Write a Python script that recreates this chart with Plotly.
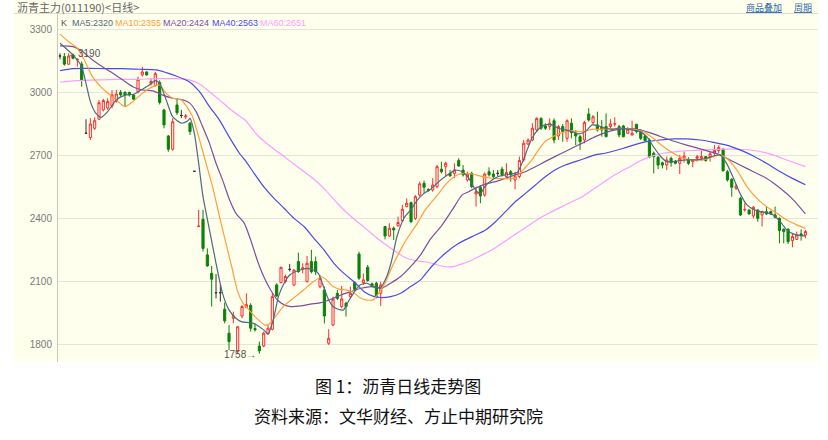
import plotly.graph_objects as go

# ---------------- data ----------------
opens = [3176,3173,3137,3181,3157,3138,2808,2788,2832,2875,2919,2928,2938,2959,3003,3003,3003,2990,3006,3086,
         3100,3045,3035,3050,2919,2795,2732,2943,2893,2886,2856,2627,2364,2398,2229,2141,2049,2049,1970,1856,
         1927,1768,1938,1979,1989,1878,1795,1795,1853,1875,2086,2097,2102,2160,2086,2197,2162,2102,2197,2197,
         2078,2062,1808,1895,2046,1983,1999,2030,2098,2233,2097,2170,2091,2094,2046,2364,2319,2356,2367,2392,
         2459,2478,2403,2514,2570,2541,2538,2554,2637,2649,2617,2617,2678,2633,2586,2617,2519,2551,2514,2625,
         2614,2617,2637,2602,2625,2586,2602,2681,2757,2776,2824,2879,2843,2840,2868,2795,2840,2784,2856,2808,
         2792,2776,2900,2859,2848,2837,2840,2840,2852,2840,2843,2808,2800,2851,2816,2795,2776,2713,2694,2668,
         2657,2689,2676,2665,2689,2684,2673,2689,2689,2697,2697,2713,2726,2732,2625,2589,2546,2498,2443,2443,
         2414,2443,2419,2435,2435,2419,2403,2351,2351,2297,2303,2329,2324]
highs = [3189,3190,3189,3188,3165,3150,2875,2880,2884,2967,2972,2975,3014,3014,3014,3008,3006,2994,3078,3125,
         3103,3068,3100,3060,2925,2800,2880,2975,2919,2900,2862,2627,2443,2443,2260,2176,2138,2086,2002,1895,
         1959,1887,1990,2046,1999,1903,1816,1864,1895,2046,2094,2173,2135,2186,2160,2240,2189,2224,2253,2221,
         2133,2078,1875,2030,2062,2081,2006,2078,2101,2244,2141,2181,2097,2101,2101,2367,2380,2364,2411,2467,
         2498,2483,2514,2578,2583,2546,2594,2657,2673,2673,2633,2665,2689,2657,2625,2625,2554,2562,2621,2646,
         2633,2633,2649,2665,2633,2625,2697,2776,2784,2856,2884,2884,2856,2879,2879,2848,2852,2875,2879,2824,
         2800,2868,2927,2895,2911,2871,2903,2875,2884,2848,2848,2837,2868,2852,2827,2800,2784,2721,2700,2673,
         2697,2697,2681,2705,2721,2694,2681,2705,2726,2700,2721,2752,2752,2737,2633,2594,2567,2506,2475,2446,
         2462,2446,2440,2462,2440,2459,2408,2356,2356,2332,2340,2351,2348]
lows = [3160,3130,3133,3160,3125,3030,2805,2776,2824,2871,2912,2919,2927,2954,2983,2935,2983,2967,2998,3078,
        3082,3035,3030,2945,2832,2720,2725,2895,2880,2875,2800,2627,2362,2245,2173,1983,2022,2006,1903,1776,
        1903,1760,1927,1975,1864,1864,1758,1789,1850,1870,2030,2094,2094,2150,2080,2144,2141,2097,2141,2133,
        2070,1903,1800,1890,2014,1975,1935,2022,2062,2110,2086,2101,2075,2022,1986,2303,2316,2300,2364,2387,
        2456,2380,2395,2506,2522,2530,2530,2546,2617,2602,2602,2594,2649,2602,2578,2546,2459,2475,2506,2602,
        2594,2602,2602,2594,2578,2541,2594,2673,2752,2771,2816,2824,2824,2824,2760,2776,2768,2768,2784,2752,
        2729,2760,2864,2848,2816,2792,2789,2832,2840,2789,2789,2805,2798,2808,2776,2768,2689,2617,2637,2641,
        2633,2649,2660,2614,2668,2657,2646,2673,2678,2673,2673,2700,2713,2625,2578,2506,2538,2414,2435,2421,
        2403,2387,2364,2419,2419,2403,2284,2284,2281,2265,2300,2297,2308]
closes = [3176,3137,3176,3165,3160,3062,2808,2852,2868,2954,2964,2959,2991,2995,2991,2991,2991,2970,3065,3100,
          3086,3055,3092,2955,2848,2732,2863,2906,2893,2890,2816,2627,2366,2260,2176,2113,2049,2049,1915,1816,
          1938,1887,1983,1992,1880,1873,1772,1856,1880,2030,2033,2170,2126,2160,2157,2149,2167,2189,2149,2149,
          2118,1938,1832,2018,2022,2019,1983,2046,2065,2118,2110,2107,2080,2030,2086,2319,2356,2348,2383,2446,
          2475,2387,2506,2567,2551,2535,2562,2649,2625,2665,2605,2633,2652,2610,2613,2554,2530,2510,2614,2610,
          2602,2617,2610,2621,2610,2602,2678,2760,2776,2832,2879,2832,2832,2856,2776,2840,2816,2868,2811,2795,
          2768,2859,2871,2887,2824,2824,2792,2852,2853,2800,2792,2827,2808,2816,2784,2773,2694,2697,2657,2657,
          2681,2668,2665,2689,2700,2665,2678,2697,2697,2678,2710,2726,2741,2630,2586,2551,2557,2419,2445,2424,
          2456,2403,2435,2424,2424,2408,2345,2340,2292,2316,2324,2322,2340]
doji = [0, 6, 28, 31, 36, 37, 53, 101]

ma5_x = [0,3,5,6,7,8.3,9.5,11,13,15,17,18.7,20.6,22,23,24.5,26,28,29.5,30,31,32,33,34.5,36,37.5,39,40.6,41.8,44.6,
         47,48,49.2,50.4,51.5,53,55.4,57,58.5,59.6,60.8,62,63,64.2,65.4,66.5,67.7,69.2,70.8,72.3,74,75.4,76.5,77.8,
         79.4,80.9,82.5,84,85.5,87.4,89.7,91.2,92.8,94.3,95.8,97,98,99.7,101.2,102.8,104.3,105.5,106.6,107.8,108.9,
         110.4,111.9,113.5,115,116.6,118.2,119.7,121.2,122.8,124.3,125.8,127.4,129.2,131.5,133.8,135.4,136.9,138.5,
         140,141.5,143,144.6,146,147.7,149.2,150.8,152.3,153.8,155.4,156.9,158.5,160,161.5,163,164.6,166.2,167.7,
         169.2,170.8,172]
ma5_y = [3237,3181,3125,3046,2959,2903,2884,2911,2967,2990,2994,3014,3038,3059,3046,2967,2887,2856,2868,2879,2808,
         2665,2506,2348,2189,2046,1967,1927,1911,1903,1872,1853,1919,2030,2086,2133,2157,2165,2157,2141,2078,2014,
         1983,1970,1967,2006,2046,2086,2094,2078,2075,2126,2200,2320,2405,2443,2491,2522,2541,2578,2614,2633,2625,
         2594,2541,2519,2554,2586,2602,2610,2614,2621,2665,2729,2784,2827,2848,2848,2832,2824,2816,2805,2816,2848,
         2843,2832,2827,2832,2827,2816,2792,2745,2700,2673,2673,2678,2681,2681,2684,2689,2700,2705,2665,2594,2522,
         2467,2446,2435,2430,2419,2387,2348,2329,2321,2320]

ma10_x = [0,2,4,5.6,7.5,9.8,12,14,15,16.8,19,21.4,23,24.5,26,28,29.5,30.6,32,33.7,35.2,36.8,38.3,39.8,41,42.2,43,
          45.4,47.3,48.5,50,51.5,53.8,56.2,58.5,60.4,61.5,63,64.6,66,67.7,69.2,70.8,72.3,73.5,75,76.3,77.8,79.4,
          80.9,82.5,84,85.5,87.4,88.9,90.5,92,93.5,95,97.4,99.7,102,104.3,105.8,107.2,108.9,110.4,111.9,113.5,115,
          116.6,118.2,119.7,121.2,122.8,124.3,126.6,128.9,132.3,134.6,136.9,139.2,141.5,143.8,146,148.5,150.8,
          152.3,153.8,156.2,158.5,160.8,163,165.4,167.7,170,172]
ma10_y = [3280,3244,3213,3157,3078,3022,2983,2948,2935,2959,2998,3030,3038,2998,2975,2967,2927,2887,2792,2665,2554,
          2411,2284,2157,2054,1999,1980,1927,1895,1903,1943,1983,2022,2062,2102,2125,2110,2078,2065,2062,2050,2025,
          2014,2016,2046,2094,2157,2221,2284,2332,2380,2435,2475,2522,2562,2594,2613,2617,2614,2602,2594,2592,2592,
          2610,2641,2681,2729,2768,2789,2805,2816,2821,2816,2819,2827,2827,2830,2832,2827,2816,2784,2745,2713,2689,
          2681,2681,2697,2705,2689,2633,2554,2498,2459,2427,2395,2372,2355]

ma20_x = [0,3,5.2,7.5,9.8,12.2,14.5,16.8,19,21.4,23.7,26,28.3,29.8,31.4,32.9,34.5,36,37.5,39,40.6,42.5,44,45.5,47,
          48.6,50.2,51.7,53.2,55.5,57.8,60.2,62.5,64.8,67.1,69.5,71.8,74.2,76.3,78.6,80.9,83.2,85.5,88.2,90.5,92.8,
          94.3,95.8,98.2,100.5,102.8,105.1,107.4,109.7,111.9,114.2,116.6,118.9,121.2,123.5,125.8,128.2,131.5,133.8,
          136.9,140.8,144.6,148.5,150.8,152.3,154.6,156.9,160,163,166.2,169.2,172]
ma20_y = [3224,3221,3197,3157,3125,3094,3062,3030,3014,3010,2990,2975,2967,2954,2911,2840,2760,2665,2586,2498,2427,
          2380,2300,2205,2126,2062,2014,1991,1983,1986,1995,2002,2018,2038,2054,2070,2078,2070,2094,2126,2173,2229,
          2305,2372,2443,2515,2530,2546,2567,2578,2594,2610,2625,2649,2673,2697,2721,2745,2768,2792,2811,2824,2830,
          2824,2805,2776,2752,2729,2716,2705,2681,2657,2625,2594,2546,2491,2424]

ma40_x = [0,2.9,6.8,10.6,14.5,18.3,22.2,24.5,26.8,29.8,32.2,34.5,36.8,39,41.4,42.7,44.8,47,49.4,51.7,54,56.3,58.6,
          60.9,63.2,65.5,67.8,70.2,72.5,74,76.3,78.6,80.9,83.2,85.8,88.9,92,95.1,98.2,100.5,102.8,105.1,107.4,109.7,
          111.9,114.2,116.6,118.9,121.2,123.5,125.8,128.2,130,132.3,135.4,138.5,141.5,144.6,147.7,150.8,153.8,156.9,
          160,163,166.2,169.2,172]
ma40_y = [3106,3116,3117,3116,3116,3113,3110,3097,3081,3054,3006,2935,2871,2792,2713,2680,2617,2554,2498,2451,2403,
          2364,2308,2253,2189,2141,2102,2054,2030,2026,2030,2046,2078,2110,2175,2237,2284,2316,2348,2387,2435,2483,
          2522,2562,2600,2633,2657,2673,2689,2705,2713,2726,2737,2752,2768,2776,2781,2781,2776,2765,2752,2729,2700,
          2665,2625,2591,2563]

ma60_x = [0,3.7,8.3,12.9,17.5,22.2,26.8,29.8,32.2,34.5,36.8,39,41.4,42.7,45.5,48.6,51.7,54.8,57.8,60.9,64,66.3,
          68.6,70.9,73.2,75.5,77.8,80,82.5,84.8,86.5,88.2,90.5,92.8,95.1,97.4,99.7,102,104.3,106.6,108.9,111.2,
          113.5,115.8,118.2,120.5,122.8,125.1,127.4,129.5,131.5,133.8,136.2,139.2,142.3,145.4,148.5,152.3,156.2,
          160,163.8,167.7,172]
ma60_y = [3051,3059,3062,3065,3065,3068,3068,3062,3043,3006,2967,2927,2890,2871,2800,2745,2697,2649,2602,2546,2475,
          2427,2387,2348,2308,2272,2240,2213,2200,2194,2185,2175,2173,2186,2205,2229,2253,2284,2316,2348,2380,2411,
          2435,2459,2483,2506,2538,2570,2602,2627,2649,2676,2697,2713,2721,2726,2729,2732,2732,2726,2710,2681,2649]

y_ticks = [1800, 2100, 2400, 2700, 3000, 3300]
ma_labels = ["MA5:2320", "MA10:2355", "MA20:2424", "MA40:2563", "MA60:2651"]
title_text = "沥青主力(011190)<日线>"
caption1 = "图 1：沥青日线走势图"
caption2 = "资料来源：文华财经、方止中期研究院"

# ---------------- styling ----------------
CREAM = "#FFFFEE"
RED = "#FF2A2A"
GREEN = "#0A820A"
MA_COLORS = ["#4E6A80", "#FF9E3D", "#7E4E9E", "#4A4AF0", "#FF9CFF"]
SANS = "Liberation Sans, Arial, sans-serif"

W, H = 828, 440
ML, MR, MT, MB = 58, 10, 14, 78
PW, PH = W - ML - MR, H - MT - MB


def px_x(px):
    return (px - ML) / PW


def px_y(py):
    return (H - MB - py) / PH


n = len(opens)
idx = list(range(n))
norm = [i for i in idx if i not in doji]
dj = [i for i in idx if i in doji]

fig = go.Figure()

for xs, ys, col in zip([ma60_x, ma40_x, ma20_x, ma10_x, ma5_x],
                       [ma60_y, ma40_y, ma20_y, ma10_y, ma5_y],
                       MA_COLORS[::-1]):
    fig.add_trace(go.Scatter(x=xs, y=ys, mode="lines",
                             line=dict(color=col, width=1.2, shape="spline", smoothing=0.6),
                             hoverinfo="skip", showlegend=False))

fig.add_trace(go.Candlestick(
    x=norm,
    open=[opens[i] for i in norm], high=[highs[i] for i in norm],
    low=[lows[i] for i in norm], close=[closes[i] for i in norm],
    increasing=dict(line=dict(color=RED, width=1), fillcolor=CREAM),
    decreasing=dict(line=dict(color=GREEN, width=1), fillcolor=GREEN),
    whiskerwidth=0, showlegend=False))

fig.add_trace(go.Candlestick(
    x=dj,
    open=[opens[i] for i in dj], high=[highs[i] for i in dj],
    low=[lows[i] for i in dj], close=[closes[i] for i in dj],
    increasing=dict(line=dict(color="#333333", width=1), fillcolor="#333333"),
    decreasing=dict(line=dict(color="#333333", width=1), fillcolor="#333333"),
    whiskerwidth=0, showlegend=False))

shapes = [
    dict(type="rect", xref="paper", yref="paper", x0=px_x(14), x1=px_x(818), y0=px_y(362), y1=px_y(0),
         fillcolor=CREAM, line=dict(width=0), layer="below"),
    dict(type="line", xref="paper", yref="paper", x0=px_x(14), x1=px_x(818), y0=px_y(13.5), y1=px_y(13.5),
         line=dict(color="#DDDDD0", width=1)),
]

annotations = [
    dict(x=px_x(15), y=px_y(7.5), xref="paper", yref="paper", text=title_text, showarrow=False,
         xanchor="left", yanchor="middle", font=dict(size=11, color="#666666", family="Noto Sans CJK SC")),
    dict(x=px_x(744), y=px_y(7.5), xref="paper", yref="paper", text="<u>商品叠加</u>", showarrow=False,
         xanchor="left", yanchor="middle", font=dict(size=9, color="#2A6AA8", family="Noto Sans CJK SC")),
    dict(x=px_x(792), y=px_y(7.5), xref="paper", yref="paper", text="<u>周期</u>", showarrow=False,
         xanchor="left", yanchor="middle", font=dict(size=9, color="#2A6AA8", family="Noto Sans CJK SC")),
    dict(x=px_x(59), y=px_y(22.5), xref="paper", yref="paper", text="K", showarrow=False,
         xanchor="left", yanchor="middle", font=dict(size=9, color="#555555", family=SANS)),
]
for lab, col, xp in zip(ma_labels, MA_COLORS, [70, 113, 161, 210, 258]):
    annotations.append(dict(x=px_x(xp), y=px_y(22.5), xref="paper", yref="paper", text=lab, showarrow=False,
                            xanchor="left", yanchor="middle", font=dict(size=9, color=col, family=SANS)))

annotations += [
    dict(x=1, y=highs[1], xref="x", yref="y", text="←3190", showarrow=False, xanchor="left", yanchor="middle",
         xshift=2, font=dict(size=10, color="#555555", family=SANS)),
    dict(x=46, y=lows[46], xref="x", yref="y", text="1758→", showarrow=False, xanchor="right", yanchor="middle",
         xshift=-1, yshift=-1, font=dict(size=10, color="#555555", family=SANS)),
    dict(x=px_x(398), y=px_y(386), xref="paper", yref="paper", text=caption1, showarrow=False,
         xanchor="center", yanchor="middle", font=dict(size=17, color="#111111", family="Noto Sans CJK SC")),
    dict(x=px_x(398), y=px_y(415), xref="paper", yref="paper", text=caption2, showarrow=False,
         xanchor="center", yanchor="middle", font=dict(size=17, color="#111111", family="Noto Sans CJK SC")),
]

fig.update_layout(
    width=W, height=H,
    margin=dict(l=ML, r=MR, t=MT, b=MB),
    paper_bgcolor="white", plot_bgcolor=CREAM,
    showlegend=False,
    shapes=shapes, annotations=annotations,
    xaxis=dict(range=[-0.46, 174.9], showgrid=False, showticklabels=False, zeroline=False,
               rangeslider=dict(visible=False), showline=False, fixedrange=True),
    yaxis=dict(range=[1719, 3376], tickvals=y_ticks, ticktext=[str(v) for v in y_ticks],
               showgrid=True, gridcolor="#E4E4DA", gridwidth=1, zeroline=False,
               showline=True, linecolor="#C8C8C0", linewidth=1, ticks="",
               tickfont=dict(size=10, color="#7A7A7A", family=SANS), ticklabelstandoff=3,
               fixedrange=True),
)

fig.write_html("out.html")
